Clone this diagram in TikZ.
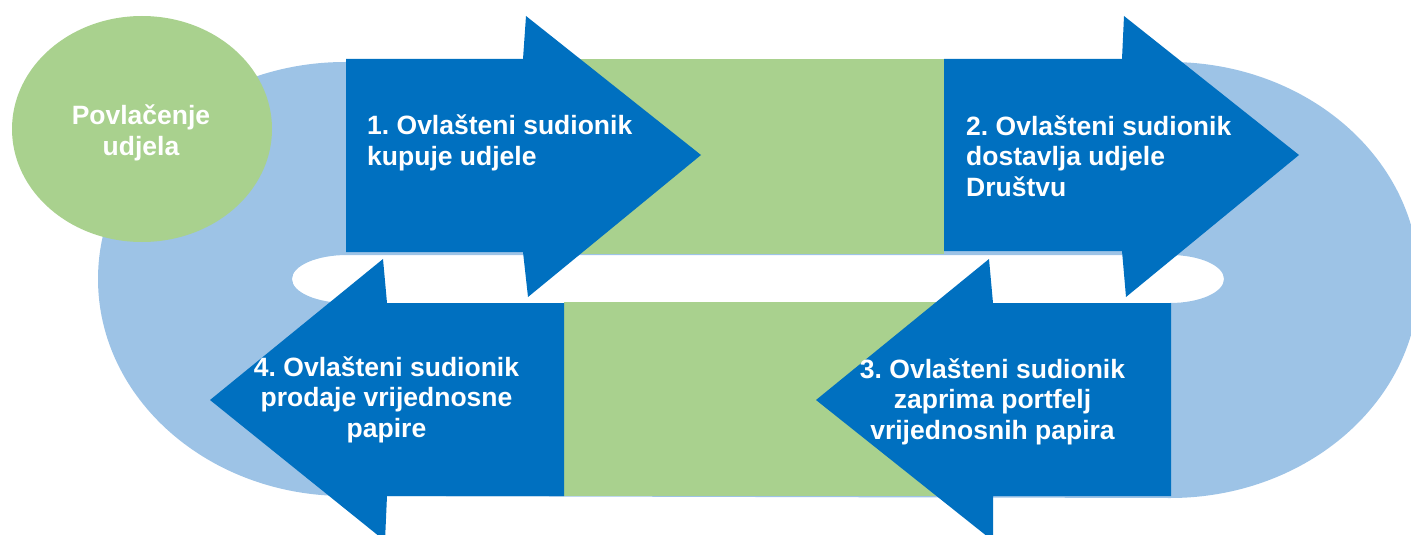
\documentclass[tikz,border=0pt]{standalone}
\usepackage{fontspec}
\setmainfont{Liberation Sans}
\usetikzlibrary{shapes.geometric}
\definecolor{arrowblue}{HTML}{0070C0}
\definecolor{ringblue}{HTML}{9DC3E6}
\definecolor{leafgreen}{HTML}{A9D18E}
\tikzset{
  bluearrow/.style={fill=arrowblue, draw=none},
  greenbox/.style={fill=leafgreen, draw=none},
  label/.style={text=white, inner sep=0pt, font=\fontsize{26.5}{30.5}\selectfont\bfseries\frenchspacing},
}
\begin{document}
\begin{tikzpicture}[x=1pt,y=-1pt]
\useasboundingbox (0,0) rectangle (1411,535);
\clip (0,0) rectangle (1411,535);
% light blue ring with hole
\fill[ringblue, even odd rule]
  (345,62) -- (1170,62) arc[start angle=-90, end angle=90, x radius=249, y radius=218]
  -- (345,496) arc[start angle=90, end angle=270, x radius=247, y radius=217] -- cycle
  (347,255) -- (1170,255) arc[start angle=-90, end angle=90, x radius=54, y radius=24]
  -- (347,303) arc[start angle=90, end angle=270, x radius=55, y radius=24] -- cycle;
% green start ellipse
\fill[leafgreen] (142,129) ellipse [x radius=130, y radius=113];
% green rectangles
\fill[greenbox] (575,59) rectangle (944,254);
\fill[greenbox] (564,302) rectangle (989,496);
% arrows
\fill[bluearrow] (346,59) -- (523,59) -- (526,16) -- (701,155) -- (528,297) -- (523,252) -- (346,252) -- cycle;
\fill[bluearrow] (944,59) -- (1122,59) -- (1124,16) -- (1299,155) -- (1126,297) -- (1122,251) -- (944,251) -- cycle;
\fill[bluearrow] (1171,303) -- (993,303) -- (989,259) -- (816,400) -- (993,541) -- (993,496) -- (1171,496) -- cycle;
\fill[bluearrow] (564,303) -- (387,303) -- (383,259) -- (210,400) -- (385,541) -- (387,496) -- (564,496) -- cycle;
% texts (anchor base = baseline of the last line)
\node[label, anchor=base, align=center] (t0) at (141,155) {Povlačenje\\udjela};
\node[label, anchor=base west, align=left] (t1) at (367,165) {1. Ovlašteni sudionik\\kupuje udjele};
\node[label, anchor=base west, align=left] (t2) at (966,196) {2. Ovlašteni sudionik\\dostavlja udjele\\Društvu};
\node[label, anchor=base, align=center] (t3) at (992.5,439) {3. Ovlašteni sudionik\\zaprima portfelj\\vrijednosnih papira};
\node[label, anchor=base, align=center] (t4) at (386.5,437) {4. Ovlašteni sudionik\\prodaje vrijednosne\\papire};
\end{tikzpicture}
\end{document}
